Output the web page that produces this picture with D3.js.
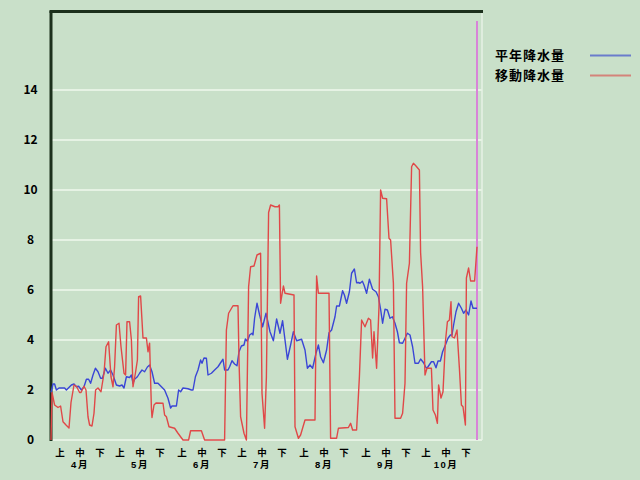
<!DOCTYPE html>
<html>
<head>
<meta charset="utf-8">
<script src="https://cdn.jsdelivr.net/npm/d3@7"></script>
<style>
html,body{margin:0;padding:0;background:#c9e0c9;}
svg{display:block;}
text{font-family:"Noto Sans CJK JP","Noto Sans CJK SC",sans-serif;font-weight:bold;fill:#000;}
text.xl{font-family:"Liberation Sans","Noto Sans CJK JP",sans-serif;}
</style>
</head>
<body>
<script>
// ---- data ----
const yTicks = [0, 2, 4, 6, 8, 10, 12, 14];
const months = ["4月", "5月", "6月", "7月", "8月", "9月", "10月"];
const monthStartDays = [0, 30, 61, 91, 122, 153, 183];
const dekads = ["上", "中", "下"];
const dekadOffsets = [4.5, 14.5, 24.5];
const seriesNames = ["平年降水量", "移動降水量"];
const lastDay = 213;

// 平年降水量 (blue): day index, value
const normalDays = [0,1,1.8,2.7,4,6.8,7.7,10.2,11.5,12.7,13.8,15.2,16.5,17.7,18.8,19.8,21,22.2,23.5,24.8,25.7,27.2,28.5,29.8,31,32.7,34.3,35.5,36.5,37.7,39.3,40.2,41,41.8,43.2,44.3,45.5,46.8,48.2,49.3,50.5,51.8,53.5,55.2,56.8,58.5,59.8,60.5,62.7,63.8,64.8,66,68.5,70.2,71,72.2,73.5,74.8,75.5,76.5,77.7,78.5,80.2,81.8,83.5,84.8,86,86.8,88.5,89.3,90.5,91.8,93,94,95.2,96.5,97.2,98.2,99.3,100.5,101,101.8,103,104.3,105.8,107.5,109.5,111.2,112.8,114.5,115.8,118.2,119.8,121.2,122.8,125.3,127,128.2,129.5,130.8,132.5,133.7,134.8,136.2,137.8,139,140.3,142,142.8,144.2,145.8,146.7,147.8,149.2,150.3,151.7,152.8,153.7,154.5,155.7,156.5,157.8,159.2,160.8,162.5,163.7,164.8,165.8,167,168.2,169.5,170.7,172,173.2,174.2,175.8,177,178.2,179.5,180.8,182,183.7,184.8,186.2,187.5,188,190.2,191.3,192.5,193.5,194.7,195.8,197.2,198.5,199.7,200.5,201.3,202.5,203.8,205.2,206.3,207.5,208.8,210,211,213];
const normalVals = [1.9,2.24,2.24,2.0,2.08,2.08,2.0,2.2,2.24,2.13,2.15,2.0,2.13,2.43,2.43,2.27,2.6,2.87,2.73,2.47,2.47,2.87,2.67,2.8,2.6,2.2,2.16,2.2,2.08,2.53,2.5,2.6,2.27,2.43,2.53,2.67,2.8,2.73,2.92,3.0,2.73,2.27,2.27,2.13,2.0,1.67,1.28,1.36,1.36,2.0,1.93,2.08,2.05,2.0,2.0,2.53,2.8,3.2,3.07,3.28,3.27,2.6,2.67,2.8,2.93,3.09,3.23,2.8,2.8,2.93,3.17,3.04,2.97,3.53,3.76,3.8,4.04,3.95,4.2,4.27,4.2,4.87,5.47,5.0,4.53,5.07,4.33,3.97,4.84,4.27,4.77,3.23,3.8,4.33,3.97,4.03,3.6,2.87,3.0,2.87,3.47,3.8,3.33,3.09,3.6,4.29,4.4,4.93,5.36,5.36,5.97,5.8,5.47,5.93,6.67,6.84,6.29,6.3,6.27,6.35,6.2,5.87,6.43,6.03,5.93,5.73,5.23,4.67,5.23,5.2,4.87,4.93,4.67,4.33,3.89,3.87,4.07,4.27,4.2,3.73,3.07,3.07,3.24,3.1,2.9,2.87,3.13,3.13,2.89,3.16,3.16,3.53,3.8,4.07,4.2,4.2,4.6,5.13,5.47,5.27,5.07,5.2,5.0,5.56,5.27,5.27];

// 移動降水量 (red): day index, value
const movingDays = [0,0.5,1.8,3.5,4.8,6,7.5,9,10,11.5,12.7,14.3,15,16.5,17.5,18.5,19.3,20.5,21.5,22.3,23.5,25,26.5,27.5,28.8,30,31,31.8,32.7,34,35,36.5,37.3,38,39.3,40.2,41,42.2,43.2,43.8,44.8,46,47.7,48.5,49.3,50.2,50.5,51.5,52.5,56,56.8,57.7,59,61.8,63.5,66,68.8,69.8,75.2,76.8,86.8,87.7,88.8,91,93.5,94,94.8,96.5,97.7,98.8,99.8,101.5,103,104.8,105.5,106.8,107.7,108.8,109.8,112,113.5,114.2,114.8,116.2,117,121.5,122,123.7,124.8,127,132,132.8,133.7,139,139.8,142.8,143.7,148.7,149.8,150.8,152.8,154.2,155.3,157,158.7,159.8,160.8,161.5,162.8,164,164.8,165.8,167.8,169,169.8,171.2,172,174.8,175.8,177,177.8,179.2,180.3,181.2,182.5,184.2,184.8,185.8,187,188,190.2,191,192.2,193.2,193.8,195,196,197.2,198.2,199.2,200,200.5,201.7,203,204.2,205.2,206,207.2,207.7,208.8,209.8,211.8,213];
const movingVals = [0,1.9,1.4,1.3,1.36,0.73,0.6,0.48,1.5,2.2,2.15,1.9,1.9,2.15,2.0,0.93,0.6,0.56,1.07,2.0,2.08,1.93,2.67,3.73,3.93,2.53,2.13,2.93,4.6,4.67,3.73,2.67,2.6,4.73,4.73,4.0,2.13,2.67,3.2,5.73,5.76,4.08,4.08,3.53,3.87,1.28,0.9,1.4,1.48,1.47,1.0,0.93,0.53,0.47,0.27,0,0,0.37,0.37,0,0,4.4,5.07,5.37,5.37,3.2,0.93,0.27,0,6.13,6.93,6.96,7.4,7.47,1.87,0.47,2.53,9.1,9.4,9.33,9.33,9.4,5.47,6.16,5.87,5.8,0.53,0.07,0.2,0.8,0.8,6.56,5.87,5.87,0.07,0.07,0.47,0.5,0.67,0.4,0.4,2.53,4.8,4.53,4.87,4.8,3.28,4.33,2.87,5.33,10.0,9.67,9.65,8.07,8.0,6.27,0.87,0.87,1.07,2.27,6.27,7.07,10.93,11.07,10.96,10.8,7.5,6.13,2.6,2.87,2.87,1.2,1.0,0.67,2.2,1.68,1.93,3.93,4.73,4.8,5.53,4.13,4.08,4.4,2.87,1.4,1.33,0.6,6.48,6.88,6.36,6.36,7.73];

// ---- drawing ----
const W = 640, H = 480;
const plotLeft = 51, plotRight = 477, plotTop = 11, plotBottom = 440, frameRight = 482;
const blue = "#3a46d6", red = "#e04848";

const svg = d3.select("body").append("svg").attr("width", W).attr("height", H);
svg.append("rect").attr("width", W).attr("height", H).attr("fill", "#c9e0c9");

const x = d3.scaleLinear().domain([0, lastDay]).range([plotLeft, plotRight]);
const y = d3.scaleLinear().domain([0, 14]).range([plotBottom, 90]);

// gridlines
svg.append("g").selectAll("line").data(yTicks).join("line")
  .attr("x1", plotLeft).attr("x2", frameRight)
  .attr("y1", d => y(d)).attr("y2", d => y(d))
  .attr("stroke", "#e6f2e4").attr("stroke-width", 2);

// right frame
svg.append("line").attr("x1", frameRight).attr("x2", frameRight)
  .attr("y1", plotTop).attr("y2", plotBottom)
  .attr("stroke", "#e6f2e4").attr("stroke-width", 1.5);

// y axis labels
const yAxis = d3.axisLeft(y).tickValues(yTicks).tickSize(0).tickPadding(0).tickFormat(d3.format("d"));
const ya = svg.append("g").attr("transform", `translate(30.5,0)`).call(yAxis);
ya.select(".domain").remove();
ya.selectAll("text").attr("text-anchor", "middle").attr("dx", 0)
  .style("font-size", "12px").style("font-weight", "bold").attr("fill", "#000")
  .attr("font-family", "'Noto Sans CJK JP', sans-serif");

// x labels: dekads and months
const dekadData = [];
monthStartDays.forEach((s, mi) => dekads.forEach((dk, di) => dekadData.push({t: dk, day: s + dekadOffsets[di]})));
svg.append("g").selectAll("text").data(dekadData).join("text").attr("class", "xl")
  .attr("x", d => x(d.day)).attr("y", 455.5)
  .attr("text-anchor", "middle").style("font-size", "9.5px").text(d => d.t);
svg.append("g").selectAll("text").data(months).join("text").attr("class", "xl")
  .attr("x", (d, i) => x(monthStartDays[i] + dekadOffsets[1])).attr("y", 467.5)
  .attr("text-anchor", "middle").style("font-size", "9.5px").style("letter-spacing", "1.5px").text(d => d);

// frame: top and left dark
svg.append("line").attr("x1", plotLeft - 1.5).attr("x2", frameRight + 1).attr("y1", plotTop + 0.5).attr("y2", plotTop + 0.5)
  .attr("stroke", "#1c301c").attr("stroke-width", 3);
svg.append("line").attr("x1", plotLeft).attr("x2", plotLeft).attr("y1", plotTop).attr("y2", plotBottom + 1)
  .attr("stroke", "#1c301c").attr("stroke-width", 3);

// marker line (magenta)
svg.append("line").attr("x1", x(lastDay)).attr("x2", x(lastDay)).attr("y1", 21).attr("y2", plotBottom)
  .attr("stroke", "#d884d8").attr("stroke-width", 2);

const line = d3.line().x(d => x(d[0])).y(d => y(d[1]));
const normal = normalDays.map((d, i) => [d, normalVals[i]]);
const moving = movingDays.map((d, i) => [d, movingVals[i]]);

svg.append("path").datum(normal).attr("d", line)
  .attr("fill", "none").attr("stroke", blue).attr("stroke-width", 1.4).attr("stroke-linejoin", "round");
svg.append("path").datum(moving).attr("d", line)
  .attr("fill", "none").attr("stroke", red).attr("stroke-width", 1.4).attr("stroke-linejoin", "round");

// legend
const legend = svg.append("g");
[[seriesNames[0], "#6a7ccc", 55.5], [seriesNames[1], "#d4837a", 75.5]].forEach(([name, col, ly]) => {
  legend.append("text").attr("x", 495).attr("y", ly + 4.5)
    .style("font-size", "13px").style("letter-spacing", "1px").text(name);
  legend.append("line").attr("x1", 590).attr("x2", 631).attr("y1", ly).attr("y2", ly)
    .attr("stroke", col).attr("stroke-width", 2);
});
</script>
</body>
</html>
